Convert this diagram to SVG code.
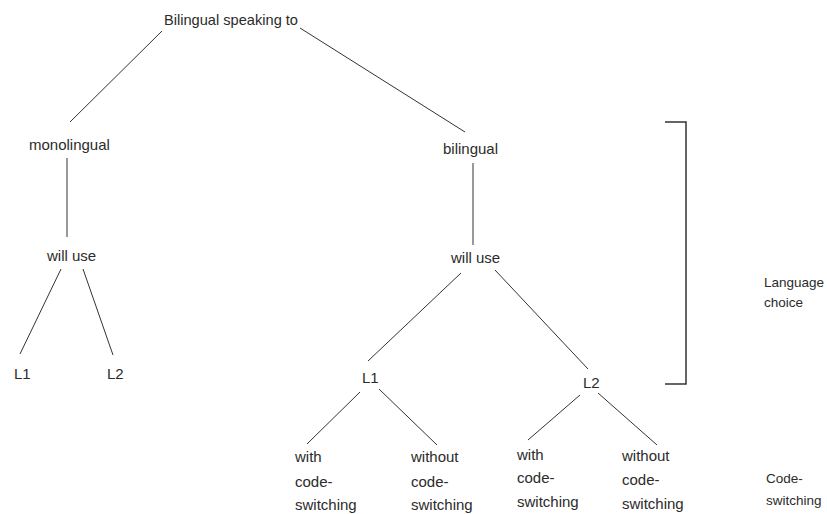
<svg xmlns="http://www.w3.org/2000/svg" width="827" height="514" viewBox="0 0 827 514">
<style>
text{font-family:"Liberation Sans",Arial,sans-serif;font-size:15px;fill:#2b2b2b}
.side{font-size:13.5px}
.c line{stroke:#333;stroke-width:1}
.br{stroke:#333;stroke-width:1.5;fill:none}
</style>
<rect width="827" height="514" fill="#fff"/>
<g id="connectors" class="c">
<line x1="162" y1="31" x2="70" y2="122"/>
<line x1="300" y1="28" x2="465" y2="132"/>
<line x1="67" y1="158" x2="67" y2="237"/>
<line x1="61" y1="269" x2="20" y2="354"/>
<line x1="83" y1="269" x2="113" y2="355"/>
<line x1="473" y1="163" x2="473" y2="245"/>
<line x1="461" y1="273" x2="368" y2="361"/>
<line x1="495" y1="270" x2="588" y2="369"/>
<line x1="360" y1="392" x2="307" y2="444"/>
<line x1="379" y1="389" x2="437" y2="445"/>
<line x1="580" y1="395" x2="528" y2="440"/>
<line x1="598" y1="393" x2="657" y2="445"/>
</g>
<g id="root"><text x="164" y="25" textLength="134" lengthAdjust="spacingAndGlyphs">Bilingual speaking to</text></g>
<g id="monolingual"><text x="29" y="150">monolingual</text></g>
<g id="will-use-1"><text x="47" y="261">will use</text></g>
<g id="l1-mono"><text x="14" y="379">L1</text></g>
<g id="l2-mono"><text x="107" y="379">L2</text></g>
<g id="bilingual"><text x="443" y="154">bilingual</text></g>
<g id="will-use-2"><text x="451" y="263">will use</text></g>
<g id="l1-bi"><text x="362" y="383">L1</text></g>
<g id="l2-bi"><text x="583" y="388">L2</text></g>
<g id="l1-with"><text x="295" y="462">with</text><text x="295" y="487">code-</text><text x="295" y="510">switching</text></g>
<g id="l1-without"><text x="411" y="462">without</text><text x="411" y="487">code-</text><text x="411" y="510">switching</text></g>
<g id="l2-with"><text x="517" y="460">with</text><text x="517" y="483">code-</text><text x="517" y="507">switching</text></g>
<g id="l2-without"><text x="622" y="461">without</text><text x="622" y="485">code-</text><text x="622" y="509">switching</text></g>
<g id="bracket"><polyline class="br" points="665,122 686,122 686,384 665,384"/></g>
<g id="language-choice"><text class="side" x="764" y="287">Language</text><text class="side" x="764" y="307">choice</text></g>
<g id="code-switching"><text class="side" x="766" y="483">Code-</text><text class="side" x="766" y="505">switching</text></g>
</svg>
